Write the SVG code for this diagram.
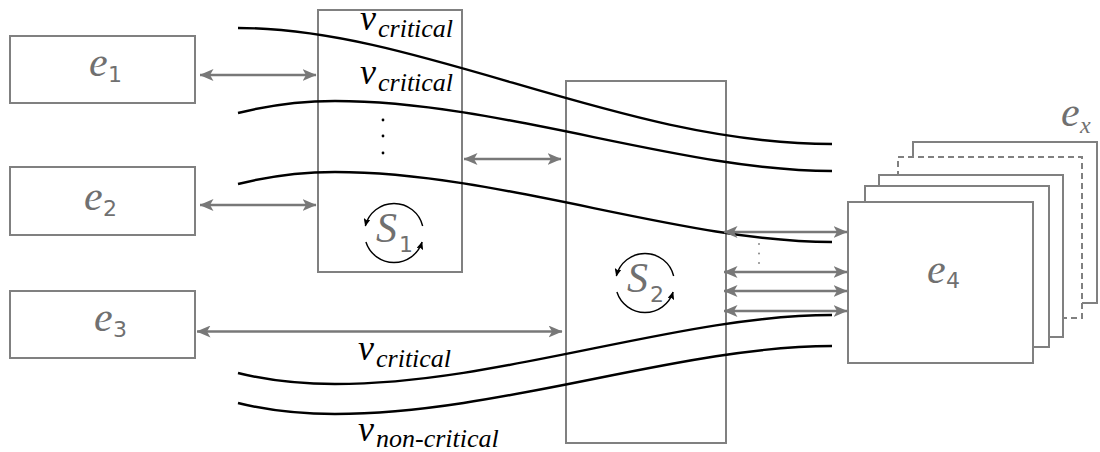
<svg xmlns="http://www.w3.org/2000/svg" width="1100" height="452" viewBox="0 0 1100 452" font-family="Liberation Serif, serif">
  <style>
    .box { fill: #ffffff; stroke: #808080; stroke-width: 2; }
    .frame { fill: none; stroke: #808080; stroke-width: 2; }
    .dashed { stroke-dasharray: 6 4; }
    .link { fill: none; stroke: #787878; stroke-width: 2.6; }
    .flow { fill: none; stroke: #000000; stroke-width: 2.4; }
    .cyc { fill: none; stroke: #000000; stroke-width: 1.4; }
    .big { font-family: 'Liberation Serif', serif; font-style: italic; font-size: 42px; fill: #707070; }
    .sub { font-family: 'DejaVu Sans', sans-serif; font-size: 22px; fill: #707070; }
    .lbl { font-family: 'Liberation Serif', serif; font-style: italic; fill: #000000; }
    .v { font-size: 36px; }
    .vs { font-size: 26px; }
  </style>
  <defs>
    <marker id="ah" viewBox="0 0 14 12" refX="13.5" refY="6" markerWidth="14" markerHeight="12" markerUnits="userSpaceOnUse" orient="auto-start-reverse">
      <path d="M0,0 L14,6 L0,12 L3.5,6 Z" fill="#787878"/>
    </marker>
    <marker id="ch" viewBox="0 0 8 7" refX="7.5" refY="3.5" markerWidth="8" markerHeight="7" markerUnits="userSpaceOnUse" orient="auto">
      <path d="M0,0 L8,3.5 L0,7 L1.5,3.5 Z" fill="#000000"/>
    </marker>
  </defs>
  <g id="s1">
    <rect class="frame" x="318" y="10" width="144" height="262"/>
    <circle cx="383" cy="120" r="1.4" fill="#000"/>
    <circle cx="383" cy="136" r="1.4" fill="#000"/>
    <circle cx="383" cy="153" r="1.4" fill="#000"/>
    <path class="cyc" marker-end="url(#ch)" d="M422.66,226 A29.5,29.5 0 0 0 365.34,226"/>
    <path class="cyc" marker-end="url(#ch)" d="M365.91,242 A29.5,29.5 0 0 0 422.09,242"/>
    <text class="big" font-family="Liberation Serif" font-style="italic" x="376" y="242">S</text>
    <text class="sub" font-family="DejaVu Sans" x="399" y="252">1</text>
  </g>
  <g id="s2">
    <rect class="frame" x="566" y="81" width="160" height="362"/>
    <path class="cyc" marker-end="url(#ch)" d="M673.66,276 A29.5,29.5 0 0 0 616.34,276"/>
    <path class="cyc" marker-end="url(#ch)" d="M616.91,292 A29.5,29.5 0 0 0 673.09,292"/>
    <text class="big" font-family="Liberation Serif" font-style="italic" x="627" y="292">S</text>
    <text class="sub" font-family="DejaVu Sans" x="650" y="302">2</text>
  </g>
  <g id="flows">
    <path class="flow" d="M238,28 C420,28 620,144 832,144"/>
    <path class="flow" d="M238,113 C270,105 300,101 335,101 C500,101 680,171 832,171"/>
    <path class="flow" d="M238,184 C270,176 300,172 335,172 C500,172 680,242 832,242"/>
    <path class="flow" d="M238,373 C270,381 300,384 335,384 C500,384 680,315 832,315"/>
    <path class="flow" d="M238,403 C270,411 300,414 335,414 C500,414 680,346 832,346"/>
  </g>
  <g id="e1">
    <rect class="box" x="10" y="36" width="185" height="67"/>
    <text class="big" font-family="Liberation Serif" font-style="italic" x="89" y="76">e</text>
    <text class="sub" font-family="DejaVu Sans" x="108" y="82">1</text>
  </g>
  <g id="e2">
    <rect class="box" x="10" y="167" width="185" height="68"/>
    <text class="big" font-family="Liberation Serif" font-style="italic" x="84" y="210">e</text>
    <text class="sub" font-family="DejaVu Sans" x="103" y="216">2</text>
  </g>
  <g id="e3">
    <rect class="box" x="10" y="291" width="185" height="67"/>
    <text class="big" font-family="Liberation Serif" font-style="italic" x="94" y="331">e</text>
    <text class="sub" font-family="DejaVu Sans" x="113" y="337">3</text>
  </g>
  <g id="e4">
    <rect class="box" x="913" y="142" width="184" height="161"/>
    <rect class="box dashed" x="898" y="157" width="184" height="161"/>
    <rect class="box" x="879" y="175" width="184" height="162"/>
    <rect class="box" x="865" y="186" width="184" height="161"/>
    <rect class="box" x="848" y="202" width="185" height="161"/>
    <text class="big" font-family="Liberation Serif" font-style="italic" x="927" y="283">e</text>
    <text class="sub" font-family="DejaVu Sans" x="946" y="288">4</text>
  </g>
  <g id="ex">
    <text class="big" font-family="Liberation Serif" font-style="italic" x="1061" y="126">e</text>
    <text class="big" font-family="Liberation Serif" font-style="italic" x="1080" y="133" style="font-size:24px">x</text>
  </g>
  <g id="links" marker-start="url(#ah)" marker-end="url(#ah)">
    <line class="link" x1="200" y1="75" x2="316" y2="75"/>
    <line class="link" x1="200" y1="205" x2="316" y2="205"/>
    <line class="link" x1="464" y1="159" x2="561" y2="159"/>
    <line class="link" x1="197" y1="331.5" x2="562" y2="331.5"/>
    <line class="link" x1="724" y1="232" x2="847" y2="232"/>
    <line class="link" x1="724" y1="272" x2="847" y2="272"/>
    <line class="link" x1="724" y1="291" x2="847" y2="291"/>
    <line class="link" x1="724" y1="311" x2="847" y2="311"/>
  </g>
  <g id="gap-dots" fill="#888">
    <circle cx="759" cy="244" r="1"/>
    <circle cx="759" cy="253.5" r="1"/>
    <circle cx="759" cy="263" r="1"/>
  </g>
  <g id="labels" font-family="Liberation Serif" font-style="italic">
    <text class="lbl" x="360" y="30"><tspan class="v">v</tspan><tspan class="vs" x="378" y="37">critical</tspan></text>
    <text class="lbl" x="360" y="84"><tspan class="v">v</tspan><tspan class="vs" x="378" y="91">critical</tspan></text>
    <text class="lbl" x="358" y="360"><tspan class="v">v</tspan><tspan class="vs" x="376" y="367">critical</tspan></text>
    <text class="lbl" x="358" y="441"><tspan class="v">v</tspan><tspan class="vs" x="376" y="447">non-critical</tspan></text>
  </g>
</svg>
